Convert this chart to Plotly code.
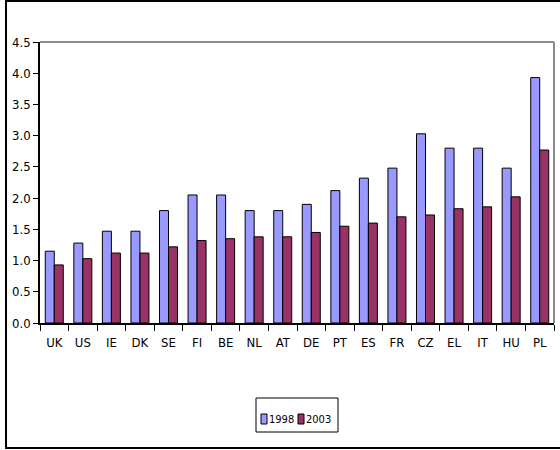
import plotly.graph_objects as go

# Country codes and the two series
countries = ["UK", "US", "IE", "DK", "SE", "FI", "BE", "NL", "AT", "DE",
             "PT", "ES", "FR", "CZ", "EL", "IT", "HU", "PL"]
values_1998 = [1.15, 1.28, 1.47, 1.47, 1.80, 2.05, 2.05, 1.80, 1.80, 1.90,
               2.12, 2.32, 2.48, 3.03, 2.80, 2.80, 2.48, 3.93]
values_2003 = [0.93, 1.03, 1.12, 1.12, 1.22, 1.32, 1.35, 1.38, 1.38, 1.45,
               1.55, 1.60, 1.70, 1.73, 1.83, 1.86, 2.02, 2.77]
series_names = ["1998", "2003"]
series_colors = ["#9999FF", "#993366"]

FONT = "DejaVu Sans Condensed, Liberation Sans Narrow, Arial Narrow, sans-serif"

# Plot-area geometry in pixels (used to place the frame and legend)
W, H = 560, 450
L, R, T, B = 40, 554, 42, 323


def px_x(x):
    return (x - L) / (R - L)


def px_y(y):
    return (B - y) / (B - T)


fig = go.Figure()
for name, vals, col in zip(series_names, [values_1998, values_2003], series_colors):
    fig.add_trace(go.Bar(
        x=countries, y=vals, name=name,
        marker=dict(color=col, line=dict(color="black", width=1)),
        showlegend=False,
    ))

shapes = [
    # outer chart border
    dict(type="rect", xref="paper", yref="paper",
         x0=px_x(6), x1=px_x(562), y0=px_y(448), y1=px_y(1),
         line=dict(color="black", width=2), layer="below"),
    # plot-area frame (top and right edges in grey)
    dict(type="line", xref="paper", yref="paper", x0=0, x1=1, y0=1, y1=1,
         line=dict(color="#8c8c8c", width=2)),
    dict(type="line", xref="paper", yref="paper", x0=1, x1=1, y0=0, y1=1,
         line=dict(color="#8c8c8c", width=2)),
    # legend box
    dict(type="rect", xref="paper", yref="paper",
         x0=px_x(256), x1=px_x(338), y0=px_y(432), y1=px_y(398),
         line=dict(color="black", width=1), fillcolor="white"),
]

annotations = []
legend_items = [(261, 269), (298, 306)]
for (sq_x, txt_x), name, col in zip(legend_items, series_names, series_colors):
    shapes.append(dict(type="rect", xref="paper", yref="paper",
                       x0=px_x(sq_x), x1=px_x(sq_x + 6),
                       y0=px_y(424), y1=px_y(414),
                       line=dict(color="black", width=1), fillcolor=col))
    annotations.append(dict(xref="paper", yref="paper", x=px_x(txt_x), y=px_y(419),
                            text=name, showarrow=False, xanchor="left", yanchor="middle",
                            borderpad=0, xshift=-1,
                            font=dict(family=FONT, size=11, color="black")))

fig.update_layout(
    width=W, height=H,
    margin=dict(l=L, r=W - R, t=T, b=H - B),
    paper_bgcolor="white", plot_bgcolor="white",
    barmode="group", bargap=0.37, bargroupgap=0.0,
    font=dict(family=FONT, size=13, color="black"),
    shapes=shapes, annotations=annotations,
    xaxis=dict(
        showline=True, linecolor="black", linewidth=1.5,
        ticks="outside", tickson="boundaries", ticklen=6, tickcolor="black",
        showgrid=False, tickfont=dict(family=FONT, size=13), tickangle=0,
        ticklabelstandoff=7,
    ),
    yaxis=dict(
        range=[0, 4.5], dtick=0.5, tickformat=".1f",
        showline=True, linecolor="black", linewidth=1.5,
        ticks="outside", ticklen=5, tickcolor="black",
        showgrid=False, zeroline=False, tickfont=dict(family=FONT, size=13),
    ),
)

fig.write_html("out.html")
